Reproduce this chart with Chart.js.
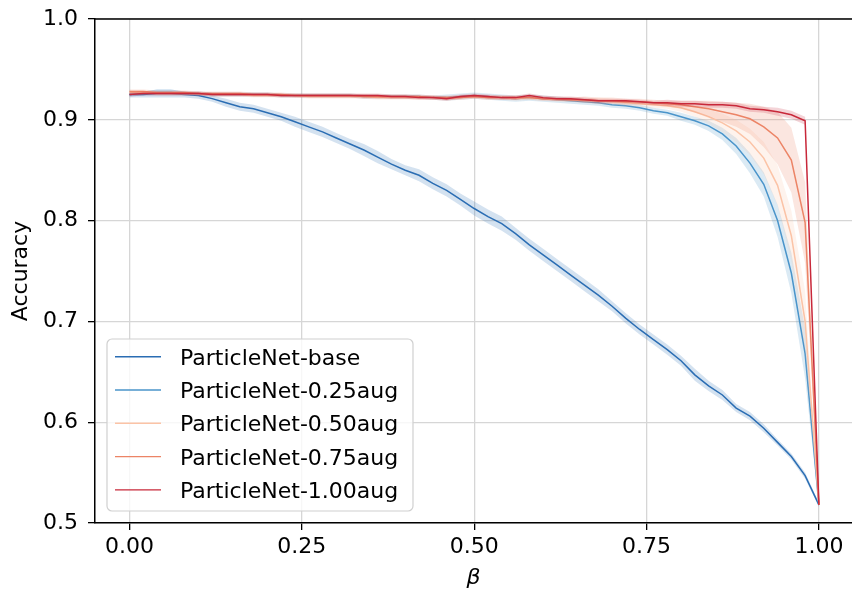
<!DOCTYPE html>
<html><head><meta charset="utf-8">
<script src="https://cdn.jsdelivr.net/npm/chart.js@4/dist/chart.umd.min.js"></script>
<style>html,body{margin:0;padding:0;background:#fff;overflow:hidden}#wrap{width:852px;height:595px;position:relative}</style>
</head><body><div id="wrap"><canvas id="c" width="852" height="595"></canvas></div>
<script>
// ---- data ----
const beta = [0.00,0.02,0.04,0.06,0.08,0.10,0.12,0.14,0.16,0.18,0.20,0.22,0.24,0.26,0.28,0.30,0.32,0.34,0.36,0.38,0.40,0.42,0.44,0.46,0.48,0.50,0.52,0.54,0.56,0.58,0.60,0.62,0.64,0.66,0.68,0.70,0.72,0.74,0.76,0.78,0.80,0.82,0.84,0.86,0.88,0.90,0.92,0.94,0.96,0.98,1.00];
const seriesLabels = ['ParticleNet-base','ParticleNet-0.25aug','ParticleNet-0.50aug','ParticleNet-0.75aug','ParticleNet-1.00aug'];
const xTicks = [0, 0.25, 0.5, 0.75, 1.0];
const xTickLabels = ['0.00','0.25','0.50','0.75','1.00'];
const yTicks = [0.5, 0.6, 0.7, 0.8, 0.9, 1.0];
const yTickLabels = ['0.5','0.6','0.7','0.8','0.9','1.0'];

const accBase = [0.925,0.925,0.926,0.926,0.925,0.924,0.921,0.917,0.913,0.911,0.907,0.903,0.898,0.893,0.888,0.882,0.876,0.870,0.863,0.856,0.850,0.845,0.837,0.830,0.821,0.812,0.804,0.797,0.787,0.776,0.766,0.756,0.746,0.736,0.726,0.715,0.703,0.692,0.682,0.672,0.661,0.647,0.636,0.627,0.614,0.606,0.594,0.580,0.566,0.547,0.518];
const stdBase = [0.003,0.003,0.004,0.004,0.003,0.003,0.003,0.004,0.004,0.004,0.004,0.004,0.005,0.005,0.005,0.005,0.005,0.006,0.006,0.005,0.005,0.006,0.006,0.006,0.006,0.007,0.007,0.007,0.006,0.006,0.006,0.006,0.006,0.006,0.006,0.005,0.005,0.005,0.005,0.005,0.005,0.006,0.005,0.005,0.004,0.004,0.004,0.003,0.003,0.003,0.002];

const acc025 = [0.925,0.926,0.927,0.927,0.926,0.926,0.925,0.925,0.925,0.925,0.925,0.924,0.924,0.924,0.924,0.924,0.924,0.923,0.923,0.923,0.923,0.923,0.922,0.922,0.923,0.924,0.923,0.922,0.921,0.922,0.921,0.920,0.919,0.918,0.917,0.915,0.914,0.912,0.909,0.907,0.903,0.899,0.894,0.886,0.874,0.857,0.836,0.800,0.748,0.668,0.518];
const std025 = [0.002,0.002,0.003,0.003,0.002,0.002,0.002,0.002,0.002,0.002,0.002,0.002,0.002,0.002,0.002,0.002,0.002,0.002,0.002,0.002,0.002,0.002,0.002,0.003,0.003,0.003,0.003,0.003,0.003,0.003,0.003,0.003,0.003,0.003,0.003,0.003,0.003,0.003,0.003,0.003,0.004,0.004,0.005,0.006,0.008,0.010,0.012,0.016,0.020,0.025,0.002];

const acc050 = [0.927,0.927,0.926,0.926,0.926,0.926,0.925,0.925,0.925,0.924,0.924,0.924,0.924,0.923,0.923,0.923,0.923,0.923,0.922,0.922,0.922,0.922,0.922,0.921,0.922,0.923,0.922,0.922,0.921,0.922,0.921,0.920,0.920,0.919,0.919,0.918,0.917,0.916,0.915,0.914,0.912,0.908,0.903,0.897,0.889,0.878,0.862,0.835,0.785,0.700,0.518];
const std050 = [0.002,0.002,0.002,0.002,0.002,0.002,0.002,0.002,0.002,0.002,0.002,0.002,0.002,0.002,0.002,0.002,0.002,0.002,0.002,0.002,0.002,0.002,0.002,0.002,0.002,0.002,0.002,0.002,0.002,0.002,0.002,0.002,0.002,0.002,0.003,0.003,0.003,0.003,0.003,0.003,0.004,0.005,0.007,0.009,0.011,0.013,0.016,0.020,0.025,0.030,0.002];

const acc075 = [0.928,0.928,0.927,0.927,0.927,0.926,0.926,0.926,0.926,0.925,0.925,0.925,0.924,0.924,0.924,0.924,0.924,0.923,0.923,0.923,0.923,0.923,0.922,0.922,0.922,0.923,0.922,0.922,0.922,0.922,0.921,0.921,0.920,0.920,0.919,0.919,0.918,0.918,0.917,0.916,0.915,0.913,0.911,0.908,0.905,0.901,0.893,0.882,0.860,0.798,0.518];
const std075 = [0.002,0.002,0.002,0.002,0.002,0.002,0.002,0.002,0.002,0.002,0.002,0.002,0.002,0.002,0.002,0.002,0.002,0.002,0.002,0.002,0.002,0.002,0.002,0.002,0.002,0.002,0.002,0.002,0.002,0.002,0.002,0.002,0.002,0.003,0.003,0.003,0.003,0.003,0.003,0.003,0.004,0.006,0.008,0.010,0.012,0.015,0.020,0.026,0.032,0.040,0.002];

const acc100 = [0.925,0.926,0.926,0.926,0.926,0.926,0.925,0.925,0.925,0.925,0.925,0.924,0.924,0.924,0.924,0.924,0.924,0.924,0.924,0.923,0.923,0.922,0.922,0.921,0.923,0.924,0.923,0.922,0.922,0.924,0.922,0.921,0.921,0.920,0.919,0.919,0.919,0.918,0.917,0.917,0.916,0.916,0.915,0.915,0.914,0.911,0.910,0.908,0.905,0.899,0.518];
const std100 = [0.002,0.002,0.002,0.002,0.002,0.002,0.002,0.002,0.002,0.002,0.002,0.002,0.002,0.002,0.002,0.002,0.002,0.002,0.002,0.002,0.002,0.002,0.002,0.002,0.002,0.002,0.002,0.002,0.002,0.002,0.002,0.002,0.002,0.002,0.002,0.002,0.002,0.002,0.002,0.003,0.003,0.003,0.003,0.003,0.003,0.003,0.003,0.004,0.004,0.004,0.002];

const seriesMeans = [accBase, acc025, acc050, acc075, acc100];
const seriesStds = [stdBase, std025, std050, std075, std100];
const seriesColors = ['#2a6db3','#4a94ca','#fbc3a6','#ec8466','#c8283a'];

// ---- build datasets ----
function rgba(hex, a){
  const n = parseInt(hex.slice(1),16);
  return `rgba(${(n>>16)&255},${(n>>8)&255},${n&255},${a})`;
}
const datasets = [];
seriesLabels.forEach((lab, s) => {
  const m = seriesMeans[s], sd = seriesStds[s], col = seriesColors[s];
  const base = (5 - s) * 10;
  datasets.push({label: lab+' upper', data: beta.map((b,i)=>({x:b, y:m[i]+sd[i]})), borderWidth:0, pointRadius:0, fill:'+1', backgroundColor: rgba(col,0.2), order: base+2});
  datasets.push({label: lab+' lower', data: beta.map((b,i)=>({x:b, y:m[i]-sd[i]})), borderWidth:0, pointRadius:0, fill:false, order: base+1});
  datasets.push({label: lab, data: beta.map((b,i)=>({x:b, y:m[i]})), borderColor: col, borderWidth:1.5, pointRadius:0, fill:false, order: base});
});

const FONT = 'DejaVu Sans';
const FS = 22;

const frame = {
  id:'frame',
  afterDraw(chart){
    const ctx = chart.ctx, a = chart.chartArea;
    ctx.save();
    ctx.strokeStyle = '#000'; ctx.lineWidth = 1.5;
    ctx.beginPath(); ctx.moveTo(a.left-0.75, a.top); ctx.lineTo(a.right, a.top); ctx.stroke();
    // legend
    const x0 = 107, y0 = 339, w = 306, h = 172, r = 5;
    ctx.beginPath();
    ctx.moveTo(x0+r, y0); ctx.lineTo(x0+w-r, y0); ctx.arcTo(x0+w, y0, x0+w, y0+r, r);
    ctx.lineTo(x0+w, y0+h-r); ctx.arcTo(x0+w, y0+h, x0+w-r, y0+h, r);
    ctx.lineTo(x0+r, y0+h); ctx.arcTo(x0, y0+h, x0, y0+h-r, r);
    ctx.lineTo(x0, y0+r); ctx.arcTo(x0, y0, x0+r, y0, r); ctx.closePath();
    ctx.fillStyle = 'rgba(255,255,255,0.8)'; ctx.fill();
    ctx.strokeStyle = '#d0d0d0'; ctx.lineWidth = 1.2; ctx.stroke();
    ctx.font = `${FS}px "${FONT}"`; ctx.textBaseline = 'alphabetic'; ctx.textAlign = 'left';
    seriesLabels.forEach((lab, i) => {
      const y = 356.7 + i*33.3;
      ctx.strokeStyle = seriesColors[i]; ctx.lineWidth = 1.4;
      ctx.beginPath(); ctx.moveTo(115, y); ctx.lineTo(161, y); ctx.stroke();
      ctx.fillStyle = '#000';
      ctx.fillText(lab, 180, y + 8);
    });
    ctx.restore();
  }
};

new Chart(document.getElementById('c'), {
  type: 'line',
  data: { datasets },
  options: {
    responsive: false, animation: false, devicePixelRatio: 1,
    layout: { padding: { top: 19, right: 0, left: 0, bottom: 0 } },
    plugins: { legend: { display: false }, tooltip: { enabled: false } },
    elements: { line: { tension: 0 } },
    scales: {
      x: {
        type: 'linear', min: -0.05, max: 1.048,
        afterBuildTicks: s => { s.ticks = xTicks.map(v => ({value: v})); },
        afterFit: s => { s.height = 72; s.paddingLeft = 0; s.paddingRight = 0; },
        ticks: { callback: (v, i) => xTickLabels[i], color: '#000', font: { family: FONT, size: FS, lineHeight: 1.2 }, padding: 4, maxRotation: 0, autoSkip: false },
        grid: { color: '#d6d6d6', lineWidth: 1.3, tickColor: '#000', tickLength: 7, tickWidth: 1.3 },
        border: { color: '#000', width: 1.5 },
        title: { display: true, text: 'β', color: '#000', font: { family: FONT, size: FS, style: 'italic', lineHeight: 1.2 }, padding: { top: 0, bottom: 4 } }
      },
      y: {
        type: 'linear', min: 0.5, max: 1.0,
        afterBuildTicks: s => { s.ticks = yTicks.map(v => ({value: v})); },
        afterFit: s => { s.width = 95; s.paddingTop = 0; s.paddingBottom = 0; },
        ticks: { callback: (v, i) => yTickLabels[i], color: '#000', font: { family: FONT, size: FS, lineHeight: 1.2 }, padding: 10, autoSkip: false },
        grid: { color: '#d6d6d6', lineWidth: 1.3, tickColor: '#000', tickLength: 7, tickWidth: 1.3 },
        border: { color: '#000', width: 1.5 },
        title: { display: true, text: 'Accuracy', color: '#000', font: { family: FONT, size: FS, lineHeight: 1.2 }, padding: { top: 8, bottom: 0 } }
      }
    }
  },
  plugins: [frame]
});
</script>
</body></html>
